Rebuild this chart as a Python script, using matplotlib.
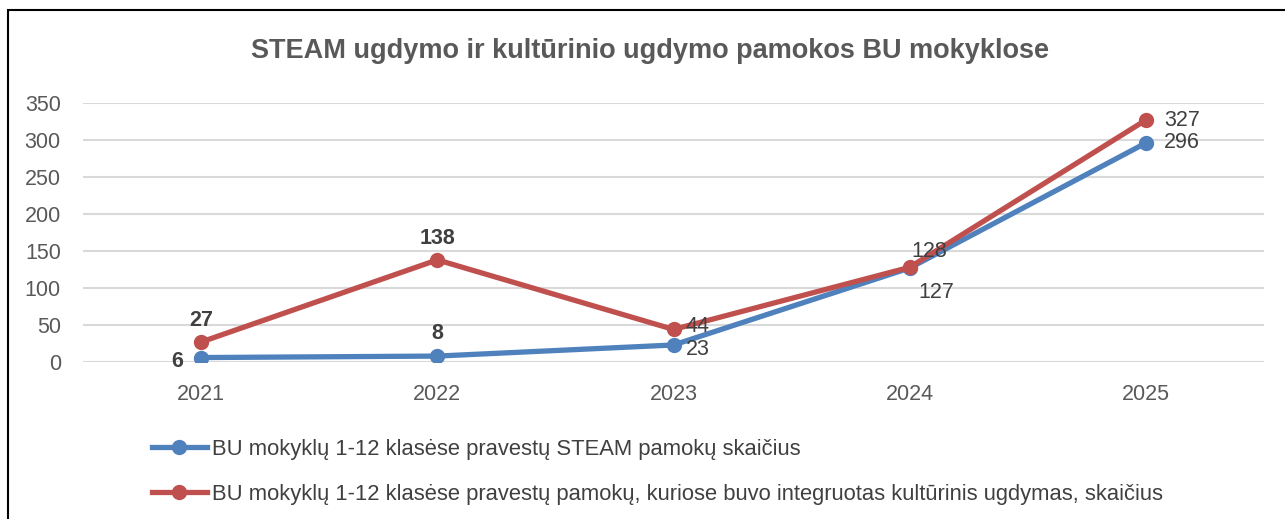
import matplotlib.pyplot as plt
from matplotlib.lines import Line2D
from matplotlib.patches import Rectangle

# Duomenys
YEARS = ["2021", "2022", "2023", "2024", "2025"]
STEAM = [6, 8, 23, 127, 296]
KULTURA = [27, 138, 44, 128, 327]

TITLE = "STEAM ugdymo ir kultūrinio ugdymo pamokos BU mokyklose"
LABEL_STEAM = "BU mokyklų 1-12 klasėse pravestų STEAM pamokų skaičius"
LABEL_KULTURA = ("BU mokyklų 1-12 klasėse pravestų pamokų, kuriose buvo "
                 "integruotas kultūrinis ugdymas, skaičius")

BLUE = "#4F81BD"
RED = "#C0504D"
TXT = "#404040"

plt.rcParams["font.family"] = ["Liberation Sans", "DejaVu Sans"]

fig = plt.figure(figsize=(12.85, 5.19), dpi=100)
W, H = 1285, 519
ax = fig.add_axes([83 / W, 1 - 362 / H, (1264 - 83) / W, (362 - 103) / H])

x = list(range(len(YEARS)))
ax.plot(x, STEAM, color=BLUE, lw=3.8, marker="o", ms=10, solid_capstyle="round", zorder=3)
ax.plot(x, KULTURA, color=RED, lw=3.8, marker="o", ms=10, solid_capstyle="round", zorder=3)

ax.set_xlim(-0.5, len(YEARS) - 0.5)
ax.set_ylim(0, 350)
ax.set_yticks(range(0, 351, 50))
ax.set_xticks(x)
ax.set_xticklabels(YEARS)
ax.tick_params(axis="both", length=0, labelsize=15.5, colors="#595959")
ax.tick_params(axis="x", pad=16)
ax.tick_params(axis="y", pad=16)
ax.grid(axis="y", color="#D9D9D9", lw=1.5)
ax.set_axisbelow(True)
for s in ax.spines.values():
    s.set_visible(False)

# Reikšmių žymės
fs = 15.5
def lab(i, v, dx, dy, ha, va, bold):
    ax.annotate(str(v), (i, v), xytext=(dx, dy), textcoords="offset points",
                ha=ha, va=va, fontsize=fs, color=TXT,
                fontweight="bold" if bold else "normal", zorder=4)

lab(0, KULTURA[0], 0, 8, "center", "bottom", True)
lab(0, STEAM[0], -13, -3, "right", "center", True)
lab(1, KULTURA[1], 0, 8, "center", "bottom", True)
lab(1, STEAM[1], 0, 9, "center", "bottom", True)
lab(2, KULTURA[2], 9, 2, "left", "center", False)
lab(2, STEAM[2], 9, -3, "left", "center", False)
lab(3, KULTURA[3], 1, 4, "left", "bottom", False)
lab(3, STEAM[3], 6, -10, "left", "top", False)
lab(4, KULTURA[4], 13, 0, "left", "center", False)
lab(4, STEAM[4], 13, 0, "left", "center", False)

fig.text(650 / W, 1 - 51 / H, TITLE, ha="center", va="center",
         fontsize=19.5, fontweight="bold", color="#595959")

# Legenda
handles = [
    Line2D([], [], color=BLUE, lw=3.8, marker="o", ms=10),
    Line2D([], [], color=RED, lw=3.8, marker="o", ms=10),
]
fig.legend(handles, [LABEL_STEAM, LABEL_KULTURA], loc="upper left",
           bbox_to_anchor=(143 / W, 1 - 430 / H), frameon=False,
           fontsize=15.8, labelcolor=TXT, handlelength=2.5, handletextpad=0.25,
           labelspacing=1.1, borderaxespad=0)

# Rėmelis
fig.patches.append(Rectangle((8 / W, -0.1), 1.5, 1 - 10 / H + 0.1, transform=fig.transFigure,
                             fill=False, edgecolor="black", lw=1.5))

fig.savefig("out.png", dpi=100, facecolor="white")
